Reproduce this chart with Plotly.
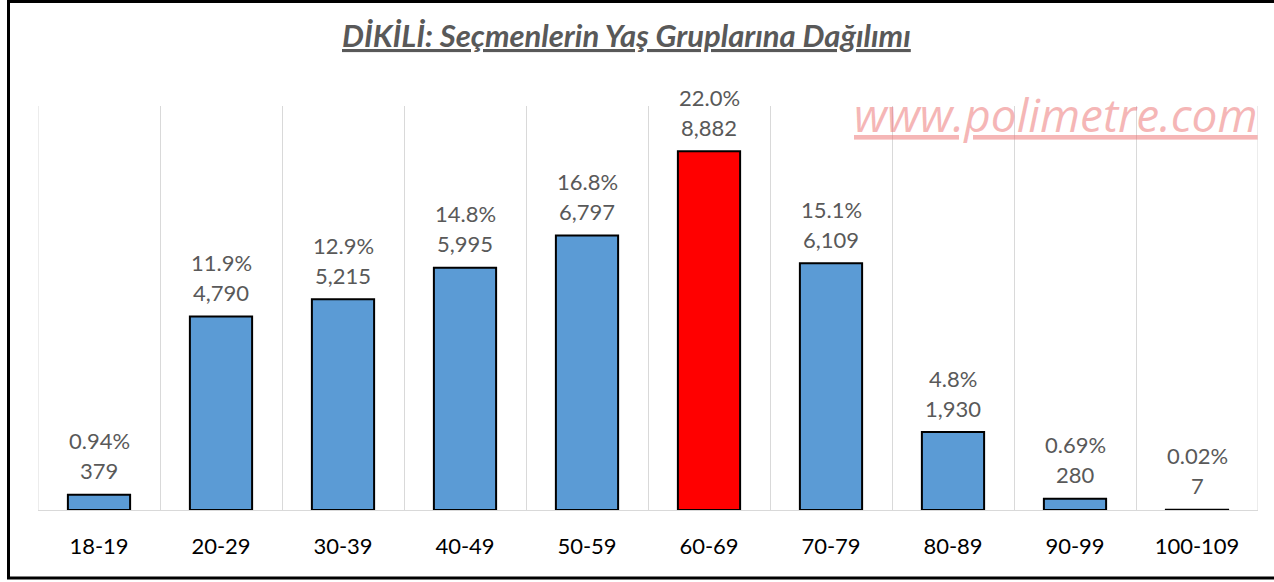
import plotly.graph_objects as go

categories = ["18-19", "20-29", "30-39", "40-49", "50-59", "60-69", "70-79", "80-89", "90-99", "100-109"]
counts = [379, 4790, 5215, 5995, 6797, 8882, 6109, 1930, 280, 7]
percent_labels = ["0.94%", "11.9%", "12.9%", "14.8%", "16.8%", "22.0%", "15.1%", "4.8%", "0.69%", "0.02%"]
highlight = "60-69"

colors = ["#FF0000" if c == highlight else "#5B9BD5" for c in categories]

W, H = 1274, 582
L, R, T, B = 38, 16, 106, 72
pw, ph = W - L - R, H - T - B

def px(x):
    return (x - L) / pw

def py(y):
    return (H - B - y) / ph

FONT = "Lato, Open Sans, sans-serif"
LABEL_FONT = dict(family=FONT, size=22, color="#595959")

fig = go.Figure(go.Bar(
    x=categories, y=counts,
    marker=dict(color=colors, line=dict(color="#000000", width=2)),
    width=0.51, hoverinfo="skip",
))

annotations = []
for c, v, p in zip(categories, counts, percent_labels):
    annotations.append(dict(x=c, y=v, xref="x", yref="y", text=f"{v:,}", showarrow=False,
                            yanchor="middle", yshift=24, font=LABEL_FONT))
    annotations.append(dict(x=c, y=v, xref="x", yref="y", text=p, showarrow=False,
                            yanchor="middle", yshift=54, font=LABEL_FONT))

annotations += [
    dict(text="<b><i><u>DİKİLİ: Seçmenlerin Yaş Gruplarına Dağılımı</u></i></b>",
         xref="paper", yref="paper", x=px(626), y=py(35), xanchor="center", yanchor="middle",
         showarrow=False, font=dict(family=FONT, size=31, color="#595959")),
    dict(text="<i><u>www.polimetre.com</u></i>",
         xref="paper", yref="paper", x=px(1260), y=py(114), xanchor="right", yanchor="middle",
         showarrow=False, font=dict(family="Open Sans, sans-serif", size=46, color="rgba(235,110,110,0.5)")),
]

shapes = [
    dict(type="line", xref="x", yref="paper", x0=-0.5, x1=-0.5, y0=0, y1=1,
         line=dict(color="#D9D9D9", width=1), layer="below"),
    dict(type="line", xref="x", yref="paper", x0=9.5, x1=9.5, y0=0, y1=1,
         line=dict(color="#D9D9D9", width=1), layer="below"),
    dict(type="rect", xref="paper", yref="paper",
         x0=px(8.5), x1=px(1290), y0=py(1.5), y1=py(578),
         line=dict(color="#000000", width=3), fillcolor="rgba(0,0,0,0)", layer="above"),
]

fig.update_layout(
    width=W, height=H,
    margin=dict(l=L, r=R, t=T, b=B),
    paper_bgcolor="white", plot_bgcolor="white",
    showlegend=False, hovermode=False,
    xaxis=dict(
        type="category", tickson="boundaries", showgrid=True, gridcolor="#D9D9D9", gridwidth=1,
        ticks="", showline=False, zeroline=False, ticklabelstandoff=21,
        tickfont=dict(family=FONT, size=22, color="#000000"),
        range=[-0.5, 9.5],
    ),
    yaxis=dict(range=[0, 10000], showgrid=False, showticklabels=False, zeroline=True,
               zerolinecolor="#D9D9D9", zerolinewidth=1, showline=False),
    annotations=annotations,
    shapes=shapes,
)

fig.write_html("out.html", config={"displayModeBar": False},
               post_script="document.body.style.margin='0';")
